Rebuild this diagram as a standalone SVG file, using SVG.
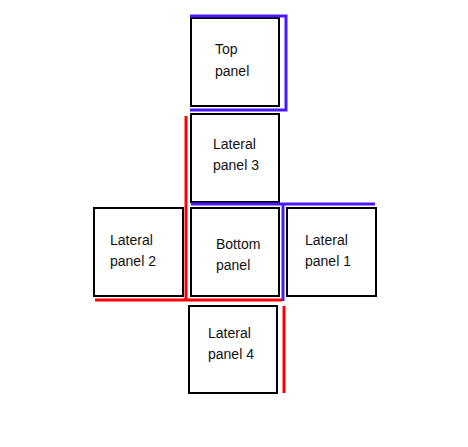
<svg xmlns="http://www.w3.org/2000/svg" width="468" height="447" viewBox="0 0 468 447">
<style>
.box{fill:#fff;stroke:#000;stroke-width:2}
.t{font-family:"Liberation Sans",Arial,sans-serif;font-size:14px;fill:#111}
.blue{fill:none;stroke:#4a1aff;stroke-width:3}
.red{fill:none;stroke:#ff0000;stroke-width:3}
</style>
<rect width="468" height="447" fill="#fff"/>
<g id="top">
<rect class="box" x="191" y="18" width="88" height="88"/>
<text class="t" x="215" y="54">Top</text>
<text class="t" x="215" y="76">panel</text>
</g>
<g id="lateral3">
<rect class="box" x="191" y="114" width="88" height="88"/>
<text class="t" x="213" y="149">Lateral</text>
<text class="t" x="213" y="170">panel 3</text>
</g>
<g id="lateral2">
<rect class="box" x="94" y="208" width="89" height="88"/>
<text class="t" x="110" y="245">Lateral</text>
<text class="t" x="110" y="266">panel 2</text>
</g>
<g id="bottom">
<rect class="box" x="191" y="208" width="88" height="88"/>
<text class="t" x="216" y="249">Bottom</text>
<text class="t" x="216" y="270">panel</text>
</g>
<g id="lateral1">
<rect class="box" x="287" y="208" width="89" height="88"/>
<text class="t" x="305" y="245">Lateral</text>
<text class="t" x="305" y="266">panel 1</text>
</g>
<g id="lateral4">
<rect class="box" x="189" y="306" width="88" height="87"/>
<text class="t" x="208" y="338">Lateral</text>
<text class="t" x="208" y="359">panel 4</text>
</g>
<g id="connectors">
<polyline class="blue" points="190,16 286,16 286,110 190,110"/>
<polyline class="blue" points="191,204 375,204"/>
<polyline class="blue" points="283,204 283,301"/>
<polyline class="red" points="186,116 186,301"/>
<polyline class="red" points="95,300 282,300"/>
<polyline class="red" points="284,306 284,393"/>
</g>
</svg>
